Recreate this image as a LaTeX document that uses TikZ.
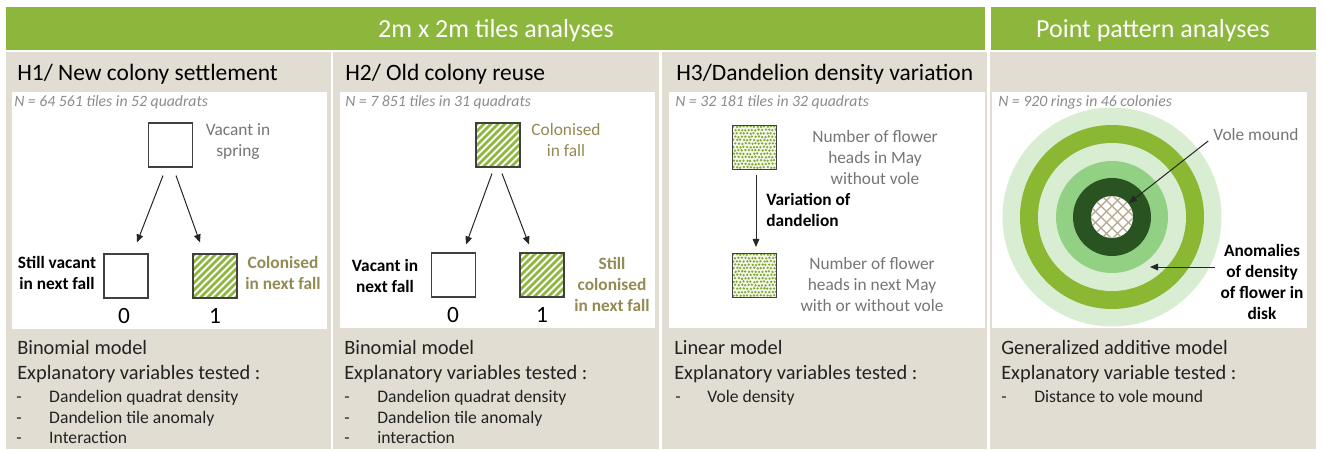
\documentclass[tikz,border=0pt]{standalone}
\usepackage{fontspec}
\setmainfont{Carlito}
\usetikzlibrary{arrows.meta,calc}
\definecolor{hdrgreen}{HTML}{8CB63C}
\definecolor{beige}{HTML}{E2DDD2}
\definecolor{olivetxt}{HTML}{948A54}
\definecolor{graytxt}{HTML}{767676}
\definecolor{ntxt}{HTML}{8C8C8C}
\definecolor{bodytxt}{HTML}{222222}
\definecolor{ringlight}{HTML}{D9EDD3}
\definecolor{ringband}{HTML}{8BB832}
\definecolor{ringmid}{HTML}{92D083}
\definecolor{ringdark}{HTML}{2A5322}
\definecolor{moundline}{HTML}{B3A68C}
\definecolor{sqline}{HTML}{404040}
\definecolor{arrcol}{HTML}{262626}
\definecolor{speckbg}{HTML}{F4F7EA}
\definecolor{speckdot}{HTML}{7FA935}
\begin{document}
\begin{tikzpicture}[x=0.75pt,y=-0.75pt,
  hdr/.style={text=white,font=\fontsize{19.5}{23}\selectfont,anchor=base,inner sep=0},
  ttl/.style={text=black,font=\fontsize{17.6}{21}\selectfont,anchor=base west,inner sep=0},
  nlab/.style={text=ntxt,font=\itshape\fontsize{11.8}{14}\selectfont,anchor=base west,inner sep=0},
  model/.style={text=bodytxt,font=\fontsize{15.3}{18}\selectfont,anchor=base west,inner sep=0},
  bul/.style={text=bodytxt,font=\fontsize{13.2}{16}\selectfont,anchor=base west,inner sep=0},
  lab/.style={text=graytxt,font=\fontsize{13}{15.75}\selectfont,align=center,anchor=base,inner sep=0},
  blab/.style={lab,text=black,font=\bfseries\fontsize{13}{15.75}\selectfont},
  olab/.style={lab,text=olivetxt},
  oblab/.style={blab,text=olivetxt},
  num/.style={text=black,font=\fontsize{17.5}{20}\selectfont,anchor=base,inner sep=0},
  tile/.style={draw=sqline,line width=0.8pt,fill=white,minimum size=33pt,inner sep=0},
  hatched/.style={tile,path picture={\foreach \k in {-7,...,7}{\draw[hdrgreen,line width=2.1pt] ($(path picture bounding box.south west)+(\k*7,0)$) -- ++(50,-50);}}},
  speckled/.style={tile,fill=speckbg,path picture={\foreach \r in {0,...,13}{\foreach \c in {0,...,13}{\fill[speckdot] ($(path picture bounding box.north west)+({\c*3.4+mod(\r,2)*1.7+0.6+0.9*rnd},{\r*3.4+0.6+0.9*rnd})$) circle[radius=0.95pt];}}}},
  moundpic/.style={circle,fill=white,minimum size=31.5pt,inner sep=0,path picture={\foreach \k in {-5,...,5}{\draw[moundline,line width=0.9pt] ($(path picture bounding box.center)+(\k*11-30,30)$) -- ++(60,-60); \draw[moundline,line width=0.9pt] ($(path picture bounding box.center)+(\k*11-30,-30)$) -- ++(60,60);}}},
  arr/.style={draw=arrcol,line width=0.75pt,-{Triangle[length=6pt,width=5pt]}}
]
\pgfmathsetseed{7}
\useasboundingbox (0,0) rectangle (1325,450);
\fill[white] (0,0) rectangle (1325,450);
% header bars
\fill[hdrgreen] (6,7) rectangle (985,50);
\fill[hdrgreen] (991,7) rectangle (1316,50);
% panels
\fill[beige] (6,52) rectangle (331,449);
\fill[beige] (333,52) rectangle (659,449);
\fill[beige] (662,52) rectangle (987,449);
\fill[beige] (990,52) rectangle (1316,449);
% white boxes
\fill[white] (12,92) rectangle (327,329);
\fill[white] (340,92) rectangle (655,328);
\fill[white] (669,92) rectangle (985,328);
\fill[white] (992,92) rectangle (1307,328);
% headers and titles
\node[hdr] (h1) at (496,37) {2m x 2m tiles analyses};
\node[hdr] (h2) at (1153,37) {Point pattern analyses};
\node[ttl] (t1) at (17,80) {H1/ New colony settlement};
\node[ttl] (t2) at (345,80) {H2/ Old colony reuse};
\node[ttl] (t3) at (676,80) {H3/Dandelion density variation};
\node[nlab] (n1) at (14,106) {N = 64 561 tiles in 52 quadrats};
\node[nlab] (n2) at (345,106) {N = 7 851 tiles in 31 quadrats};
\node[nlab] (n3) at (675,106) {N = 32 181 tiles in 32 quadrats};
\node[nlab] (n4) at (998,106) {N = 920 rings in 46 colonies};
% panel 1
\node[tile] (a0) at (170.5,145) {};
\node[lab] (a0l) at (238,156) {Vacant in\\spring};
\node[tile] (a1) at (126,276) {};
\node[hatched] (a2) at (215,276) {};
\node[blab] (a1l) at (57,289) {Still vacant\\in next fall};
\node[oblab] (a2l) at (283,289) {Colonised\\in next fall};
\node[num] (a1n) at (124,323) {0};
\node[num] (a2n) at (215,323) {1};
\draw[arr] ($(a0.south)+(-7.5,8)$) -- ($(a1.north)+(11,-11)$);
\draw[arr] ($(a0.south)+(5.5,8)$) -- ($(a2.north)+(-15,-11)$);
% panel 2
\node[hatched] (b0) at (498,145) {};
\node[olab] (b0l) at (566,156) {Colonised\\in fall};
\node[tile] (b1) at (453.5,275) {};
\node[hatched] (b2) at (542,275) {};
\node[blab] (b1l) at (385,292) {Vacant in\\next fall};
\node[oblab] (b2l) at (612,311) {Still\\colonised\\in next fall};
\node[num] (b1n) at (453,322) {0};
\node[num] (b2n) at (542,322) {1};
\draw[arr] ($(b0.south)+(-6,6)$) -- ($(b1.north)+(12.5,-8)$);
\draw[arr] ($(b0.south)+(4,6)$) -- ($(b2.north)+(-13,-8)$);
% panel 3
\node[speckled] (c0) at (754.5,147.5) {};
\node[speckled] (c1) at (754.5,275.5) {};
\node[lab] (c0l) at (875,184) {Number of flower\\heads in May\\without vole};
\node[lab] (c1l) at (872,311) {Number of flower\\heads in next May\\with or without vole};
\node[blab,align=left,anchor=base west] (cv) at (766,226) {Variation of\\dandelion};
\draw[arr] ($(c0.south)+(1.5,5)$) -- ($(c1.north)+(1.5,-6)$);
% panel 4
\fill[ringlight] (1112,217) circle[radius=82.1pt];
\fill[ringband] (1112,217) circle[radius=69pt];
\fill[ringlight] (1112,217) circle[radius=55.5pt];
\fill[ringmid] (1112,217) circle[radius=42pt];
\fill[ringdark] (1112,217) circle[radius=29.25pt];
\node[moundpic] (mound) at (1112,217) {};
\node[lab] (vole) at (1256,140) {Vole mound};
\node[blab] (anom) at (1262,319) {Anomalies\\of density\\of flower in\\disk};
\coordinate (ringpt) at (1150,267);
\draw[arr] ($(vole.base west)+(-5,1)$) -- ($(mound.center)+(17,-14)$);
\draw[arr] (anom.west |- ringpt) ++(-5,0) -- (ringpt);
% bottom texts panel 1
\node[model] (m1a) at (17,354) {Binomial model};
\node[model] (m1b) at (17,379) {Explanatory variables tested :};
\node[bul] (m1c) at (16,402) {\makebox[24.75pt][l]{-}Dandelion quadrat density};
\node[bul] (m1d) at (16,423) {\makebox[24.75pt][l]{-}Dandelion tile anomaly};
\node[bul] (m1e) at (16,443) {\makebox[24.75pt][l]{-}Interaction};
% panel 2
\node[model] (m2a) at (344,354) {Binomial model};
\node[model] (m2b) at (344,379) {Explanatory variables tested :};
\node[bul] (m2c) at (344,402) {\makebox[24.75pt][l]{-}Dandelion quadrat density};
\node[bul] (m2d) at (344,423) {\makebox[24.75pt][l]{-}Dandelion tile anomaly};
\node[bul] (m2e) at (344,443) {\makebox[24.75pt][l]{-}interaction};
% panel 3
\node[model] (m3a) at (674,354) {Linear model};
\node[model] (m3b) at (674,379) {Explanatory variables tested :};
\node[bul] (m3c) at (675,402) {\makebox[24pt][l]{-}Vole density};
% panel 4
\node[model] (m4a) at (1001,354) {Generalized additive model};
\node[model] (m4b) at (1001,379) {Explanatory variable tested :};
\node[bul] (m4c) at (1001,402) {\makebox[24.75pt][l]{-}Distance to vole mound};
\end{tikzpicture}
\end{document}
